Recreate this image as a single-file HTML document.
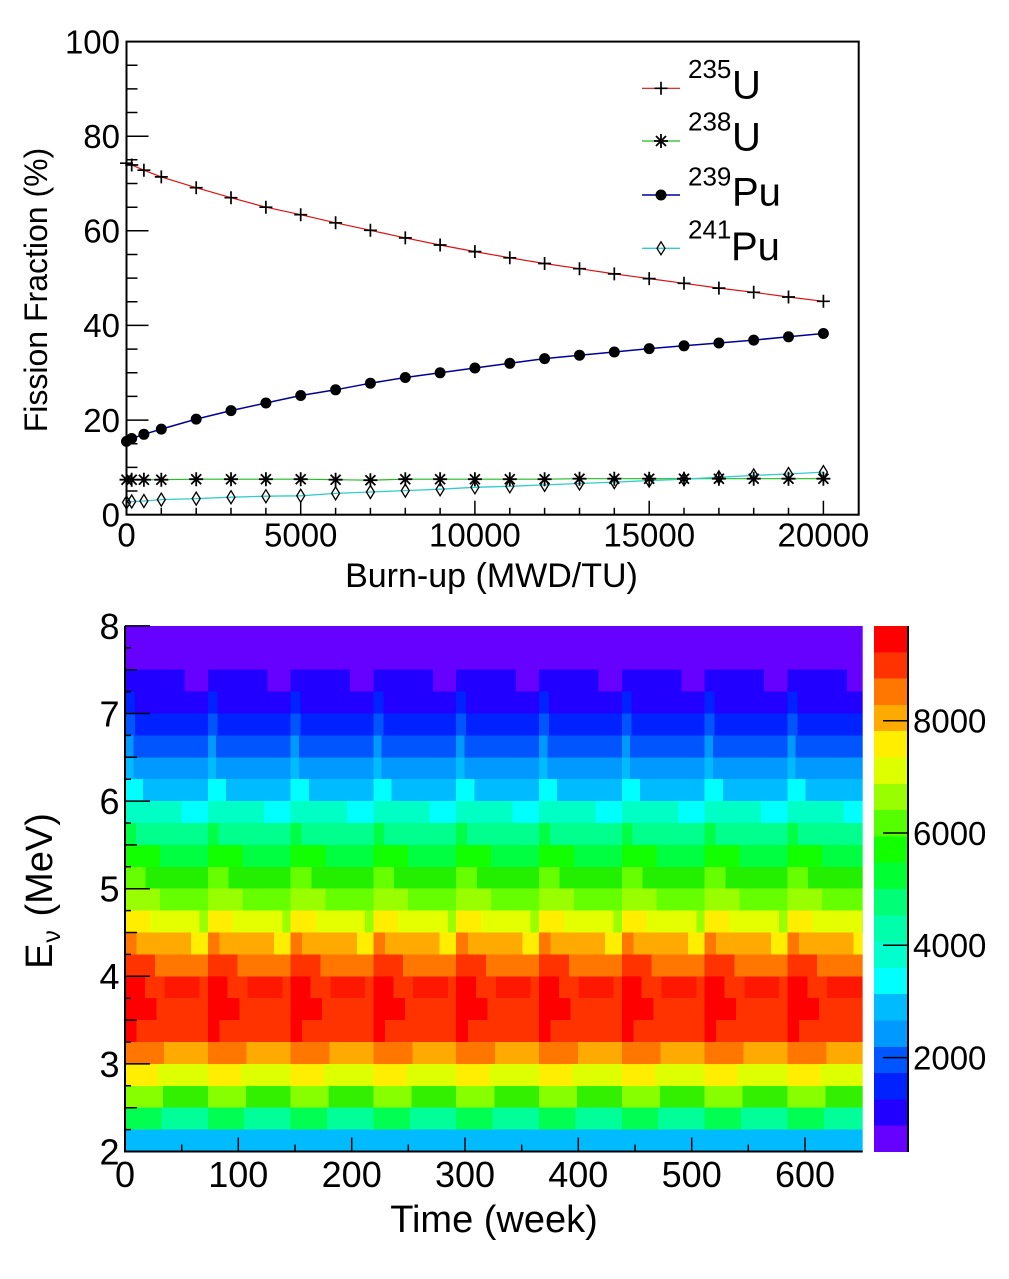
<!DOCTYPE html>
<html><head><meta charset="utf-8"><style>html,body{margin:0;padding:0;background:#fff}svg{display:block}</style></head>
<body>
<svg xmlns="http://www.w3.org/2000/svg" width="1009" height="1279" viewBox="0 0 1009 1279" font-family="'Liberation Sans', Arial, sans-serif">
<defs>
<path id="mplus" d="M-6.5,0H6.5M0,-6.5V6.5" stroke="#000" stroke-width="1.7" fill="none"/>
<path id="mstar" d="M-7,0H7M0,-7V7M-5,-5L5,5M-5,5L5,-5" stroke="#000" stroke-width="1.8" fill="none"/>
<circle id="mcirc" r="5.5" fill="#000"/>
<path id="mdia" d="M0,-6.5L4,0L0,6.5L-4,0Z" stroke="#000" stroke-width="1.3" fill="none"/>
<g id="cyc">
<rect x="0" y="0" width="100.5" height="2.05" fill="#6600ff"/>
<rect x="0" y="2" width="72.5" height="1.05" fill="#2200ff"/><rect x="72" y="2" width="28.5" height="1.05" fill="#6600ff"/>
<rect x="0" y="3" width="12.5" height="1.05" fill="#0022ff"/><rect x="12" y="3" width="88.5" height="1.05" fill="#2200ff"/>
<rect x="0" y="4" width="12.5" height="1.05" fill="#0055ff"/><rect x="12" y="4" width="88.5" height="1.05" fill="#0022ff"/>
<rect x="0" y="5" width="10.5" height="1.05" fill="#0099ff"/><rect x="10" y="5" width="90.5" height="1.05" fill="#0055ff"/>
<rect x="0" y="6" width="10.5" height="1.05" fill="#00bbff"/><rect x="10" y="6" width="90.5" height="1.05" fill="#0099ff"/>
<rect x="0" y="7" width="22.5" height="1.05" fill="#00ffff"/><rect x="22" y="7" width="78.5" height="1.05" fill="#00bbff"/>
<rect x="0" y="8" width="68.5" height="1.05" fill="#00ffc4"/><rect x="68" y="8" width="32.5" height="1.05" fill="#00ffff"/>
<rect x="0" y="9" width="13.5" height="1.05" fill="#00ff44"/><rect x="13" y="9" width="87.5" height="1.05" fill="#00ff8c"/>
<rect x="0" y="10" width="42.5" height="1.05" fill="#11ff00"/><rect x="42" y="10" width="58.5" height="1.05" fill="#00ff40"/>
<rect x="0" y="11" width="25.5" height="1.05" fill="#66ff00"/><rect x="25" y="11" width="75.5" height="1.05" fill="#22f000"/>
<rect x="0" y="12" width="42.5" height="1.05" fill="#99ff00"/><rect x="42" y="12" width="58.5" height="1.05" fill="#66ff00"/>
<rect x="0" y="13" width="30.5" height="1.05" fill="#ffee00"/><rect x="30" y="13" width="60.5" height="1.05" fill="#e4ff00"/><rect x="90" y="13" width="10.5" height="1.05" fill="#99ff00"/>
<rect x="0" y="14" width="14.5" height="1.05" fill="#ff7700"/><rect x="14" y="14" width="66.5" height="1.05" fill="#ffaa00"/><rect x="80" y="14" width="20.5" height="1.05" fill="#ffee00"/>
<rect x="0" y="15" width="36.5" height="1.05" fill="#ff3300"/><rect x="36" y="15" width="64.5" height="1.05" fill="#ff7700"/>
<rect x="0" y="16" width="24.5" height="1.05" fill="#ff0000"/><rect x="24" y="16" width="24.5" height="1.05" fill="#ff3300"/><rect x="48" y="16" width="42.5" height="1.05" fill="#ff1800"/><rect x="90" y="16" width="10.5" height="1.05" fill="#ff3300"/>
<rect x="0" y="17" width="38.5" height="1.05" fill="#ff0000"/><rect x="38" y="17" width="62.5" height="1.05" fill="#ff3300"/>
<rect x="0" y="18" width="14.5" height="1.05" fill="#ff0000"/><rect x="14" y="18" width="86.5" height="1.05" fill="#ff3300"/>
<rect x="0" y="19" width="47.5" height="1.05" fill="#ff7700"/><rect x="47" y="19" width="53.5" height="1.05" fill="#ffaa00"/>
<rect x="0" y="20" width="40.5" height="1.05" fill="#ffee00"/><rect x="40" y="20" width="60.5" height="1.05" fill="#ddff00"/>
<rect x="0" y="21" width="46.5" height="1.05" fill="#88ff00"/><rect x="46" y="21" width="54.5" height="1.05" fill="#33f000"/>
<rect x="0" y="22" width="44.5" height="1.05" fill="#00ff50"/><rect x="44" y="22" width="56.5" height="1.05" fill="#00ff99"/>
<rect x="0" y="23" width="100.5" height="1" fill="#00bbff"/>
</g>
</defs>

<!-- ===== TOP CHART ===== -->
<g fill="none" stroke-linejoin="round">
<polyline stroke="#dd1111" stroke-width="1.2" points="126.5,163.2 131.7,165.0 143.9,170.2 161.3,176.9 196.2,187.7 231.0,197.7 265.9,207.2 300.7,214.7 335.6,222.8 370.4,230.3 405.3,237.9 440.1,245.0 474.9,251.6 509.8,257.8 544.6,263.5 579.5,268.7 614.3,273.9 649.2,278.6 684.0,283.3 718.9,288.1 753.7,292.3 788.5,297.0 823.4,301.3"/>
<polyline stroke="#000099" stroke-width="1.5" points="126.5,441.4 131.7,438.5 143.9,434.3 161.3,429.1 196.2,419.1 231.0,410.6 265.9,403.0 300.7,395.5 335.6,389.8 370.4,383.2 405.3,377.5 440.1,372.8 474.9,368.0 509.8,363.3 544.6,358.6 579.5,355.2 614.3,352.0 649.2,348.6 684.0,345.8 718.9,343.0 753.7,340.1 788.5,336.8 823.4,333.5"/>
<polyline stroke="#22bb22" stroke-width="1.2" points="126.5,479.7 131.7,479.7 143.9,479.7 161.3,479.7 196.2,479.2 231.0,479.2 265.9,479.2 300.7,479.2 335.6,479.7 370.4,480.2 405.3,479.2 440.1,479.2 474.9,479.2 509.8,479.2 544.6,479.2 579.5,478.7 614.3,478.7 649.2,478.7 684.0,478.7 718.9,478.7 753.7,478.7 788.5,478.7 823.4,478.7"/>
<polyline stroke="#33cccc" stroke-width="1.3" points="126.5,502.4 131.7,501.5 143.9,501.0 161.3,499.6 196.2,498.6 231.0,497.2 265.9,496.2 300.7,495.8 335.6,493.4 370.4,492.0 405.3,490.6 440.1,489.2 474.9,487.3 509.8,486.3 544.6,484.9 579.5,483.5 614.3,482.1 649.2,480.6 684.0,479.2 718.9,477.3 753.7,475.4 788.5,474.0 823.4,472.1"/>
</g>
<g>
<use href="#mplus" x="126.5" y="163.2"/><use href="#mplus" x="131.7" y="165.0"/><use href="#mplus" x="143.9" y="170.2"/><use href="#mplus" x="161.3" y="176.9"/><use href="#mplus" x="196.2" y="187.7"/><use href="#mplus" x="231.0" y="197.7"/><use href="#mplus" x="265.9" y="207.2"/><use href="#mplus" x="300.7" y="214.7"/><use href="#mplus" x="335.6" y="222.8"/><use href="#mplus" x="370.4" y="230.3"/><use href="#mplus" x="405.3" y="237.9"/><use href="#mplus" x="440.1" y="245.0"/><use href="#mplus" x="474.9" y="251.6"/><use href="#mplus" x="509.8" y="257.8"/><use href="#mplus" x="544.6" y="263.5"/><use href="#mplus" x="579.5" y="268.7"/><use href="#mplus" x="614.3" y="273.9"/><use href="#mplus" x="649.2" y="278.6"/><use href="#mplus" x="684.0" y="283.3"/><use href="#mplus" x="718.9" y="288.1"/><use href="#mplus" x="753.7" y="292.3"/><use href="#mplus" x="788.5" y="297.0"/><use href="#mplus" x="823.4" y="301.3"/>
</g>
<g>
<use href="#mcirc" x="126.5" y="441.4"/><use href="#mcirc" x="131.7" y="438.5"/><use href="#mcirc" x="143.9" y="434.3"/><use href="#mcirc" x="161.3" y="429.1"/><use href="#mcirc" x="196.2" y="419.1"/><use href="#mcirc" x="231.0" y="410.6"/><use href="#mcirc" x="265.9" y="403.0"/><use href="#mcirc" x="300.7" y="395.5"/><use href="#mcirc" x="335.6" y="389.8"/><use href="#mcirc" x="370.4" y="383.2"/><use href="#mcirc" x="405.3" y="377.5"/><use href="#mcirc" x="440.1" y="372.8"/><use href="#mcirc" x="474.9" y="368.0"/><use href="#mcirc" x="509.8" y="363.3"/><use href="#mcirc" x="544.6" y="358.6"/><use href="#mcirc" x="579.5" y="355.2"/><use href="#mcirc" x="614.3" y="352.0"/><use href="#mcirc" x="649.2" y="348.6"/><use href="#mcirc" x="684.0" y="345.8"/><use href="#mcirc" x="718.9" y="343.0"/><use href="#mcirc" x="753.7" y="340.1"/><use href="#mcirc" x="788.5" y="336.8"/><use href="#mcirc" x="823.4" y="333.5"/>
</g>
<g>
<use href="#mstar" x="126.5" y="479.7"/><use href="#mstar" x="131.7" y="479.7"/><use href="#mstar" x="143.9" y="479.7"/><use href="#mstar" x="161.3" y="479.7"/><use href="#mstar" x="196.2" y="479.2"/><use href="#mstar" x="231.0" y="479.2"/><use href="#mstar" x="265.9" y="479.2"/><use href="#mstar" x="300.7" y="479.2"/><use href="#mstar" x="335.6" y="479.7"/><use href="#mstar" x="370.4" y="480.2"/><use href="#mstar" x="405.3" y="479.2"/><use href="#mstar" x="440.1" y="479.2"/><use href="#mstar" x="474.9" y="479.2"/><use href="#mstar" x="509.8" y="479.2"/><use href="#mstar" x="544.6" y="479.2"/><use href="#mstar" x="579.5" y="478.7"/><use href="#mstar" x="614.3" y="478.7"/><use href="#mstar" x="649.2" y="478.7"/><use href="#mstar" x="684.0" y="478.7"/><use href="#mstar" x="718.9" y="478.7"/><use href="#mstar" x="753.7" y="478.7"/><use href="#mstar" x="788.5" y="478.7"/><use href="#mstar" x="823.4" y="478.7"/>
</g>
<g>
<use href="#mdia" x="126.5" y="502.4"/><use href="#mdia" x="131.7" y="501.5"/><use href="#mdia" x="143.9" y="501.0"/><use href="#mdia" x="161.3" y="499.6"/><use href="#mdia" x="196.2" y="498.6"/><use href="#mdia" x="231.0" y="497.2"/><use href="#mdia" x="265.9" y="496.2"/><use href="#mdia" x="300.7" y="495.8"/><use href="#mdia" x="335.6" y="493.4"/><use href="#mdia" x="370.4" y="492.0"/><use href="#mdia" x="405.3" y="490.6"/><use href="#mdia" x="440.1" y="489.2"/><use href="#mdia" x="474.9" y="487.3"/><use href="#mdia" x="509.8" y="486.3"/><use href="#mdia" x="544.6" y="484.9"/><use href="#mdia" x="579.5" y="483.5"/><use href="#mdia" x="614.3" y="482.1"/><use href="#mdia" x="649.2" y="480.6"/><use href="#mdia" x="684.0" y="479.2"/><use href="#mdia" x="718.9" y="477.3"/><use href="#mdia" x="753.7" y="475.4"/><use href="#mdia" x="788.5" y="474.0"/><use href="#mdia" x="823.4" y="472.1"/>
</g>

<rect x="126.5" y="41.6" width="732.2" height="473.1" fill="none" stroke="#000" stroke-width="2"/>
<path fill="none" stroke="#000" stroke-width="1.5" d="M126.5,491.0h11M126.5,467.4h11M126.5,443.7h11M126.5,420.1h22M126.5,396.4h11M126.5,372.8h11M126.5,349.1h11M126.5,325.4h22M126.5,301.8h11M126.5,278.1h11M126.5,254.5h11M126.5,230.8h22M126.5,207.2h11M126.5,183.5h11M126.5,159.8h11M126.5,136.2h22M126.5,112.5h11M126.5,88.9h11M126.5,65.2h11
M161.3,514.7v-7M196.2,514.7v-7M231.0,514.7v-7M265.9,514.7v-7M300.7,514.7v-14M335.6,514.7v-7M370.4,514.7v-7M405.3,514.7v-7M440.1,514.7v-7M474.9,514.7v-14M509.8,514.7v-7M544.6,514.7v-7M579.5,514.7v-7M614.3,514.7v-7M649.2,514.7v-14M684.0,514.7v-7M718.9,514.7v-7M753.7,514.7v-7M788.5,514.7v-7M823.4,514.7v-14"/>

<g font-size="33" fill="#000" text-anchor="end">
<text x="120" y="53.4">100</text>
<text x="120" y="148">80</text>
<text x="120" y="242.6">60</text>
<text x="120" y="337.2">40</text>
<text x="120" y="431.9">20</text>
<text x="120" y="526.5">0</text>
</g>
<g font-size="33" fill="#000" text-anchor="middle">
<text x="126.5" y="546.6">0</text>
<text x="300.7" y="546.6">5000</text>
<text x="474.9" y="546.6">10000</text>
<text x="649.2" y="546.6">15000</text>
<text x="823.4" y="546.6">20000</text>
<text x="491.5" y="587" font-size="34">Burn-up (MWD/TU)</text>
<text transform="translate(47,290) rotate(-90)" font-size="32">Fission Fraction (%)</text>
</g>

<line x1="642" y1="88.3" x2="680" y2="88.3" stroke="#dd1111" stroke-width="1.2"/>
<use href="#mplus" x="661" y="88.3"/>
<line x1="642" y1="141" x2="680" y2="141" stroke="#22bb22" stroke-width="1.2"/>
<use href="#mstar" x="661" y="141"/>
<line x1="642" y1="195" x2="680" y2="195" stroke="#000099" stroke-width="1.5"/>
<use href="#mcirc" x="661" y="195"/>
<line x1="642" y1="248.3" x2="680" y2="248.3" stroke="#33cccc" stroke-width="1.3"/>
<use href="#mdia" x="661" y="248.3"/>
<g fill="#000">
<text x="688" y="78" font-size="26">235</text><text x="732" y="98.3" font-size="40">U</text>
<text x="688" y="130.5" font-size="26">238</text><text x="732" y="150.7" font-size="40">U</text>
<text x="688" y="185.5" font-size="26">239</text><text x="732" y="205.7" font-size="40">Pu</text>
<text x="688" y="238.6" font-size="26">241</text><text x="731" y="260" font-size="40">Pu</text>
</g>

<!-- ===== HEATMAP ===== -->
<g transform="translate(125,625.9) scale(0.828,21.9)" shape-rendering="crispEdges">
<use href="#cyc" x="0"/><use href="#cyc" x="100"/><use href="#cyc" x="200"/><use href="#cyc" x="300"/><use href="#cyc" x="400"/><use href="#cyc" x="500"/><use href="#cyc" x="600"/><use href="#cyc" x="700"/><use href="#cyc" x="800"/>
</g>
<rect x="862.7" y="615" width="11.3" height="545" fill="#fff"/>

<g shape-rendering="crispEdges">
<rect x="874" y="626.0" width="34" height="26.6" fill="#ff0000"/>
<rect x="874" y="652.3" width="34" height="26.6" fill="#ff3300"/>
<rect x="874" y="678.6" width="34" height="26.6" fill="#ff7700"/>
<rect x="874" y="704.9" width="34" height="26.6" fill="#ffaa00"/>
<rect x="874" y="731.2" width="34" height="26.6" fill="#ffee00"/>
<rect x="874" y="757.5" width="34" height="26.6" fill="#ddff00"/>
<rect x="874" y="783.8" width="34" height="26.6" fill="#99ff00"/>
<rect x="874" y="810.1" width="34" height="26.6" fill="#55ff00"/>
<rect x="874" y="836.4" width="34" height="26.6" fill="#11ff00"/>
<rect x="874" y="862.7" width="34" height="26.6" fill="#00ff33"/>
<rect x="874" y="889.0" width="34" height="26.6" fill="#00ff77"/>
<rect x="874" y="915.3" width="34" height="26.6" fill="#00ffaa"/>
<rect x="874" y="941.6" width="34" height="26.6" fill="#00ffcc"/>
<rect x="874" y="967.9" width="34" height="26.6" fill="#00ffff"/>
<rect x="874" y="994.2" width="34" height="26.6" fill="#00bbff"/>
<rect x="874" y="1020.5" width="34" height="26.6" fill="#0099ff"/>
<rect x="874" y="1046.8" width="34" height="26.6" fill="#0055ff"/>
<rect x="874" y="1073.1" width="34" height="26.6" fill="#0022ff"/>
<rect x="874" y="1099.4" width="34" height="26.6" fill="#2200ff"/>
<rect x="874" y="1125.7" width="34" height="26.3" fill="#6600ff"/>
</g>
<path fill="none" stroke="#000" stroke-width="2" d="M908,626V1152"/>
<path fill="none" stroke="#000" stroke-width="1.5" d="M883,720.7H908M883,833H908M883,945.3H908M883,1057.6H908"/>
<g font-size="33" fill="#000">
<text x="913" y="732.5">8000</text>
<text x="913" y="844.8">6000</text>
<text x="913" y="957.1">4000</text>
<text x="913" y="1069.4">2000</text>
</g>

<path fill="none" stroke="#000" stroke-width="2" d="M125,625.9V1151.5H862.7"/>
<path fill="none" stroke="#000" stroke-width="1.5" d="M125,1129.6h6M125,1107.7h12M125,1085.8h6M125,1063.9h25M125,1042.0h6M125,1020.1h12M125,998.2h6M125,976.3h25M125,954.4h6M125,932.5h12M125,910.6h6M125,888.7h25M125,866.8h6M125,844.9h12M125,823.0h6M125,801.1h25M125,779.2h6M125,757.3h12M125,735.4h6M125,713.5h25M125,691.6h6M125,669.7h12M125,647.8h6M125,625.9h25
M181.7,1151.5v-7M238.3,1151.5v-14M295,1151.5v-7M351.7,1151.5v-14M408.3,1151.5v-7M465,1151.5v-14M521.7,1151.5v-7M578.3,1151.5v-14M635,1151.5v-7M691.7,1151.5v-14M748.3,1151.5v-7M805,1151.5v-14"/>
<g font-size="36" fill="#000" text-anchor="end">
<text x="119.5" y="1164.4">2</text>
<text x="119.5" y="1076.8">3</text>
<text x="119.5" y="989.2">4</text>
<text x="119.5" y="901.6">5</text>
<text x="119.5" y="814">6</text>
<text x="119.5" y="726.4">7</text>
<text x="119.5" y="638.8">8</text>
</g>
<g font-size="36" fill="#000" text-anchor="middle">
<text x="125" y="1187">0</text>
<text x="238.3" y="1187">100</text>
<text x="351.7" y="1187">200</text>
<text x="465" y="1187">300</text>
<text x="578.3" y="1187">400</text>
<text x="691.7" y="1187">500</text>
<text x="805" y="1187">600</text>
<text x="494" y="1232" font-size="38">Time (week)</text>
<text transform="translate(52,891) rotate(-90)" font-size="38">E<tspan font-size="25" dx="1" dy="8">ν</tspan><tspan dx="3" dy="-8"> (MeV)</tspan></text>
</g>
</svg>
</body></html>
